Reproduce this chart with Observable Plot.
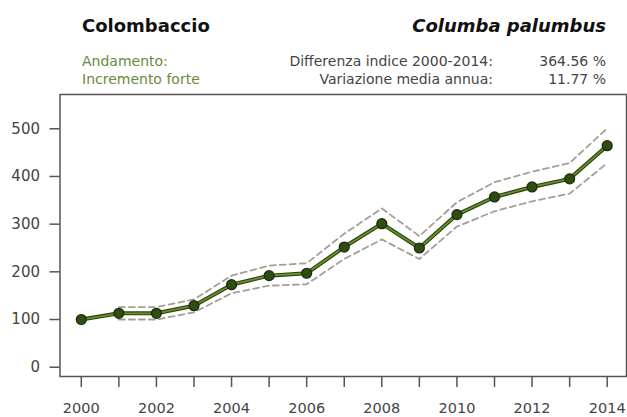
<!DOCTYPE html>
<html>
<head>
<meta charset="utf-8">
<script src="https://cdn.jsdelivr.net/npm/d3@7"></script>
<script src="https://cdn.jsdelivr.net/npm/@observablehq/plot@0.6"></script>
<style>
  html, body { margin: 0; padding: 0; background: #fff; }
  #wrap { position: relative; width: 627px; height: 417px; overflow: hidden; font-family: "DejaVu Sans", Verdana, sans-serif; }
  #head { position: relative; width: 627px; height: 90px; }
  #head div { position: absolute; white-space: nowrap; line-height: 1; }
  .title { font-size: 18px; font-weight: bold; color: #111; top: 17px; }
  .sub { font-size: 14px; }
  .green { color: #6a8a3c; }
  .gray { color: #444; }
  #chart { position: absolute; left: 0; top: 90px; }
</style>
</head>
<body>
<div id="wrap">
  <div id="head">
    <div class="title" style="left:82px">Colombaccio</div>
    <div class="title" style="right:21px; font-style:italic">Columba palumbus</div>
    <div class="sub green" style="left:82px; top:54px">Andamento:</div>
    <div class="sub green" style="left:82px; top:71.5px">Incremento forte</div>
    <div class="sub gray" style="right:134px; top:54px">Differenza indice 2000-2014:</div>
    <div class="sub gray" style="right:134px; top:71.5px">Variazione media annua:</div>
    <div class="sub gray" style="right:21px; top:54px">364.56 %</div>
    <div class="sub gray" style="right:21px; top:71.5px">11.77 %</div>
  </div>
  <div id="chart"></div>
</div>
<script>
// Population index of the wood pigeon, 2000 = 100, with confidence limits
const years = [2000, 2001, 2002, 2003, 2004, 2005, 2006, 2007, 2008, 2009, 2010, 2011, 2012, 2013, 2014];
const indexValues = [100, 113, 113, 129, 173, 192, 197, 252, 301, 250, 320, 357, 378, 395, 464.56];
const upperLimit = [null, 126, 126, 142, 192, 213, 218, 280, 333, 275, 346, 388, 410, 428, 501];
const lowerLimit = [null, 100, 100, 115, 155, 171, 174, 227, 268, 227, 295, 327, 348, 364, 428];
const yTicks = [0, 100, 200, 300, 400, 500];
const xLabelYears = [2000, 2002, 2004, 2006, 2008, 2010, 2012, 2014];

const rows = years.map((year, i) => ({
  year,
  value: indexValues[i],
  upper: upperLimit[i],
  lower: lowerLimit[i]
}));
const bandRows = rows.filter(d => d.upper != null);

const axisColor = "#555";
const textColor = "#444";

const chart = Plot.plot({
  width: 627,
  height: 327,
  marginLeft: 59.5,
  marginRight: 1,
  marginTop: 4,
  marginBottom: 41,
  style: { fontFamily: "'DejaVu Sans', Verdana, sans-serif", fontSize: "15px", color: textColor, background: "transparent" },
  x: { domain: [1999.433, 2014.514] },
  y: { domain: [-19.5, 571.9] },
  marks: [
    Plot.frame({ stroke: axisColor, strokeWidth: 1.5 }),
    Plot.axisY(yTicks, { tickSize: 10, tickPadding: 10, stroke: axisColor, strokeWidth: 1.5, fill: textColor, label: null }),
    Plot.axisX(years, { tickSize: 11, tickFormat: () => "", stroke: axisColor, strokeWidth: 1.5, label: null }),
    Plot.axisX(xLabelYears, { tickSize: 0, tickPadding: 26, fontSize: 14.5, tickFormat: d => String(d), fill: textColor, label: null }),
    Plot.line(bandRows, { x: "year", y: "upper", stroke: "#a19f96", strokeWidth: 1.8, strokeDasharray: "6,4" }),
    Plot.line(bandRows, { x: "year", y: "lower", stroke: "#a19f96", strokeWidth: 1.8, strokeDasharray: "6,4" }),
    Plot.line(rows, { x: "year", y: "value", stroke: "#2c4210", strokeWidth: 4 }),
    Plot.line(rows, { x: "year", y: "value", stroke: "#64912a", strokeWidth: 1.8 }),
    Plot.dot(rows, { x: "year", y: "value", r: 5, fill: "#2f4c12", stroke: "#1b2b0a", strokeWidth: 1.2 })
  ]
});
document.getElementById("chart").appendChild(chart);
</script>
</body>
</html>
